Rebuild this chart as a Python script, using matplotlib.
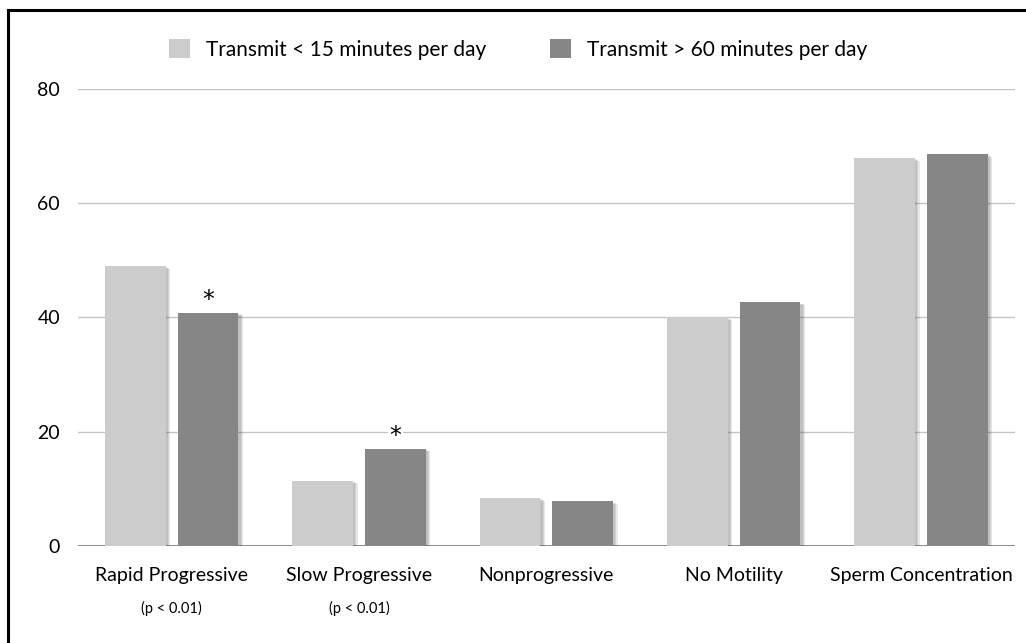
import matplotlib
matplotlib.use("Agg")
import matplotlib.pyplot as plt
import matplotlib.patheffects as pe
from matplotlib.lines import Line2D
from matplotlib.patches import Patch
import numpy as np

categories = ["Rapid Progressive", "Slow Progressive", "Nonprogressive",
              "No Motility", "Sperm Concentration"]
low_use = [49.0, 11.4, 8.4, 40.0, 67.9]
high_use = [40.8, 17.0, 7.8, 42.6, 68.6]
significant = [True, True, False, False, False]
p_notes = ["(p < 0.01)", "(p < 0.01)", "", "", ""]
series_labels = ["Transmit < 15 minutes per day", "Transmit > 60 minutes per day"]
yticks = [0, 20, 40, 60, 80]

light = "#cbcccb"
dark = "#858685"

plt.rcParams["font.family"] = ["Lato", "DejaVu Sans"]

fig = plt.figure(figsize=(10.26, 6.43), dpi=100)
ax = fig.add_axes([0.076, 0.151, 0.913, 0.711])

x = np.arange(len(categories))
w = 0.325
off = 0.194
# soft drop shadow: a few stacked faint copies
shadow = [pe.SimplePatchShadow(offset=(d, -d * 0.6), shadow_rgbFace="#555555", alpha=0.14)
          for d in (3.2, 2.4, 1.6)] + [pe.Normal()]

b1 = ax.bar(x - off, low_use, w, color=light, zorder=3)
b2 = ax.bar(x + off, high_use, w, color=dark, zorder=3)
for b in list(b1) + list(b2):
    b.set_path_effects(shadow)

for i, sig in enumerate(significant):
    if sig:
        ax.text(x[i] + off, high_use[i] + 2.3, "*", ha="center", va="center",
                fontsize=17, family="DejaVu Sans", zorder=4,
                bbox=dict(facecolor="white", edgecolor="none", pad=1))

ax.set_xlim(-0.5, len(categories) - 0.5)
ax.set_ylim(0, 80)
ax.set_yticks(yticks)
ax.set_yticklabels([str(t) for t in yticks])
ax.set_xticks(x)
ax.set_xticklabels(categories)
ax.tick_params(length=0, labelsize=14)
ax.tick_params(axis="x", pad=15)
ax.tick_params(axis="y", pad=13)
ax.grid(axis="y", color="#c4c4c4", lw=1, zorder=0)
ax.axhline(0, color="#7a7a7a", lw=1.2, zorder=2)
for s in ax.spines.values():
    s.set_visible(False)

for i, note in enumerate(p_notes):
    if note:
        ax.annotate(note, xy=(x[i], 0), xycoords=("data", "axes fraction"),
                    xytext=(0, -45), textcoords="offset points",
                    ha="center", va="center", fontsize=10.5)

handles = [Patch(facecolor=light, edgecolor="none"), Patch(facecolor=dark, edgecolor="none")]
fig.legend(handles, series_labels, loc="center", bbox_to_anchor=(0.505, 0.923),
           ncol=2, frameon=False, fontsize=15, handlelength=1.0, handleheight=1.0,
           handletextpad=0.75, columnspacing=3.1)

# frame visible on the left and top only
fig.add_artist(Line2D([0.008, 0.008], [0, 0.984], color="black", lw=2.2, transform=fig.transFigure))
fig.add_artist(Line2D([0.008, 1.0], [0.984, 0.984], color="black", lw=2.2, transform=fig.transFigure))

fig.savefig("out.png", dpi=100)
